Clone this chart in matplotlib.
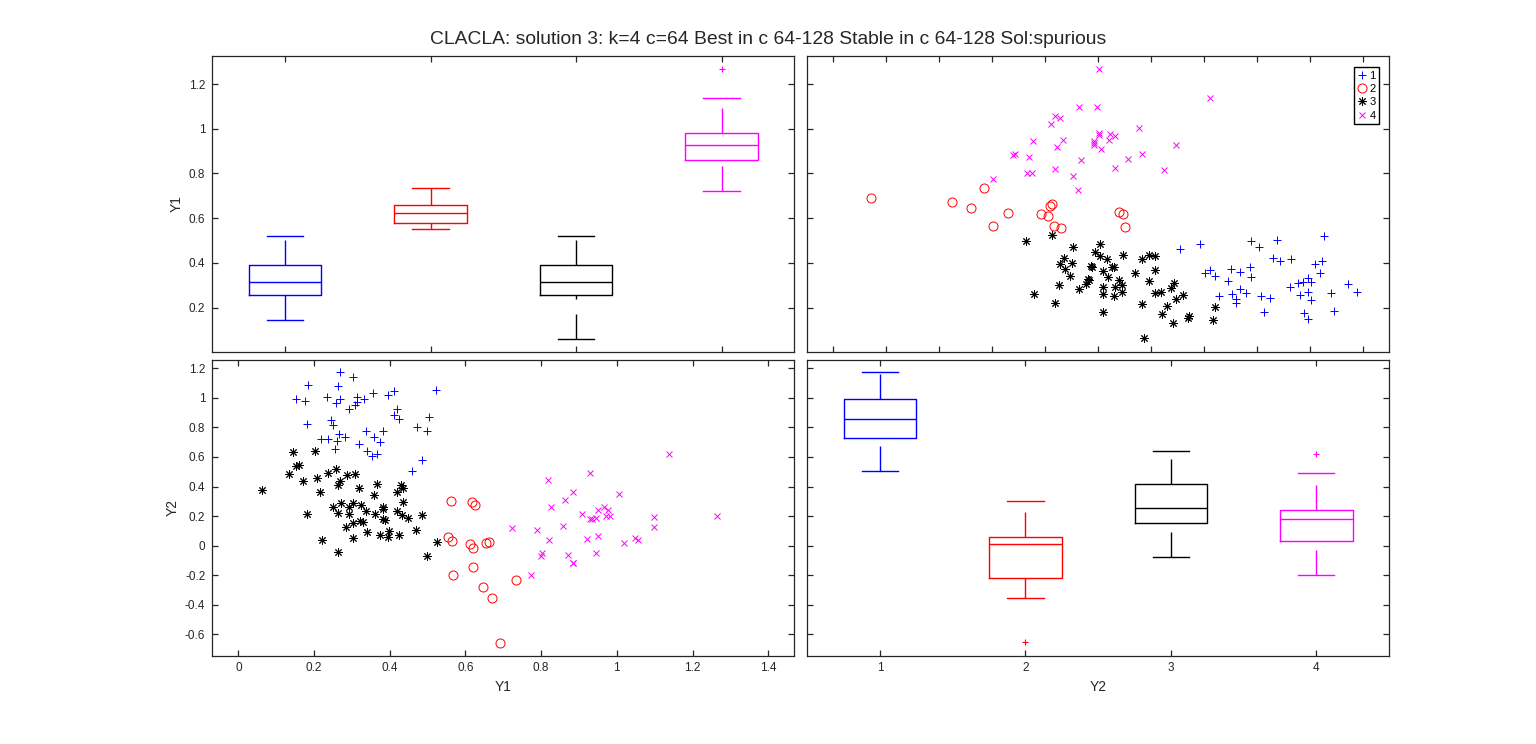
import matplotlib
matplotlib.use('Agg')
import matplotlib.pyplot as plt
import numpy as np
from matplotlib.ticker import FormatStrFormatter

plt.rcParams['font.family'] = ['Liberation Sans', 'DejaVu Sans']
plt.rcParams['axes.unicode_minus'] = False

title = 'CLACLA: solution 3: k=4 c=64 Best in c 64-128 Stable in c 64-128 Sol:spurious'
groups = ['1', '2', '3', '4']
colors = ['#0000ff', '#ff0000', '#000000', '#ff00ff']
markers = ['+', 'o', (8, 2, 0), 'x']

# points, per group (Y1, Y2)
y1_g1 = [0.269, 0.304, 0.183, 0.264, 0.151, 0.175, 0.234, 0.258, 0.269, 0.291, 0.313,
         0.308, 0.314, 0.332, 0.355, 0.396, 0.410, 0.522, 0.419, 0.410, 0.424, 0.181,
         0.245, 0.251, 0.267, 0.281, 0.219, 0.238, 0.260, 0.254, 0.336, 0.359, 0.383,
         0.373, 0.318, 0.341, 0.353, 0.367, 0.473, 0.498, 0.503, 0.484, 0.460]
y2_g1 = [1.175, 1.141, 1.089, 1.080, 0.990, 0.976, 1.003, 0.963, 0.990, 0.922, 1.003,
         0.954, 0.972, 0.990, 1.035, 1.017, 1.044, 1.051, 0.927, 0.886, 0.859, 0.825,
         0.848, 0.814, 0.758, 0.735, 0.719, 0.719, 0.706, 0.656, 0.778, 0.735, 0.773,
         0.701, 0.690, 0.640, 0.604, 0.622, 0.805, 0.778, 0.873, 0.582, 0.507]

y1_g2 = [0.562, 0.618, 0.626, 0.555, 0.564, 0.612, 0.619, 0.655, 0.663, 0.621, 0.566,
         0.734, 0.647, 0.671, 0.692]
y2_g2 = [0.300, 0.293, 0.277, 0.061, 0.034, 0.009, -0.018, 0.018, 0.027, -0.142, -0.196,
         -0.230, -0.282, -0.352, -0.656]

y1_g3 = [0.144, 0.203, 0.152, 0.161, 0.133, 0.172, 0.207, 0.238, 0.257, 0.288, 0.308,
         0.269, 0.264, 0.063, 0.216, 0.318, 0.367, 0.357, 0.429, 0.434, 0.419, 0.436,
         0.180, 0.251, 0.271, 0.262, 0.293, 0.302, 0.323, 0.336, 0.293, 0.381, 0.383,
         0.362, 0.419, 0.431, 0.448, 0.485, 0.382, 0.387, 0.285, 0.304, 0.322, 0.330,
         0.341, 0.374, 0.399, 0.394, 0.424, 0.470, 0.220, 0.302, 0.263, 0.498, 0.524]
y2_g3 = [0.633, 0.640, 0.537, 0.543, 0.482, 0.440, 0.460, 0.494, 0.521, 0.476, 0.487,
         0.435, 0.413, 0.374, 0.365, 0.392, 0.415, 0.340, 0.413, 0.392, 0.365, 0.295,
         0.217, 0.261, 0.288, 0.219, 0.264, 0.288, 0.277, 0.237, 0.217, 0.261, 0.250,
         0.217, 0.232, 0.205, 0.189, 0.205, 0.178, 0.171, 0.126, 0.153, 0.166, 0.160,
         0.092, 0.074, 0.099, 0.056, 0.070, 0.106, 0.038, 0.051, -0.041, -0.072, 0.024]

y1_g4 = [1.139, 0.928, 0.817, 0.885, 0.864, 1.005, 0.825, 0.909, 0.928, 0.935, 0.945,
         0.951, 0.967, 0.978, 0.972, 0.983, 1.097, 1.266, 0.724, 0.788, 0.859, 0.822,
         0.920, 0.951, 1.099, 1.020, 1.047, 1.057, 0.802, 0.800, 0.872, 0.945, 0.884,
         0.885, 0.774]
y2_g4 = [0.622, 0.494, 0.447, 0.365, 0.311, 0.352, 0.264, 0.212, 0.183, 0.183, 0.185,
         0.239, 0.264, 0.244, 0.203, 0.203, 0.196, 0.203, 0.122, 0.104, 0.135, 0.036,
         0.043, 0.068, 0.129, 0.020, 0.054, 0.036, -0.050, -0.068, -0.061, -0.047, -0.120,
         -0.115, -0.196]

y1_groups = [y1_g1, y1_g2, y1_g3, y1_g4]
y2_groups = [y2_g1, y2_g2, y2_g3, y2_g4]

# box plot statistics
y1_whislo = [0.146, 0.553, 0.060, 0.723]
y1_q1 = [0.255, 0.577, 0.258, 0.860]
y1_med = [0.313, 0.622, 0.316, 0.927]
y1_q3 = [0.389, 0.660, 0.392, 0.981]
y1_whishi = [0.519, 0.733, 0.522, 1.139]
y1_fliers = [[], [], [], [1.267]]

y2_whislo = [0.507, -0.352, -0.077, -0.199]
y2_q1 = [0.726, -0.221, 0.153, 0.034]
y2_med = [0.857, 0.009, 0.257, 0.183]
y2_q3 = [0.990, 0.056, 0.415, 0.239]
y2_whishi = [1.172, 0.300, 0.640, 0.491]
y2_fliers = [[], [-0.654], [], [0.620]]

axcol = '#262626'
W, H = 1536, 744
fig = plt.figure(figsize=(W / 100, H / 100), dpi=100)


def px_axes(l, t, r, b):
    return fig.add_axes([l / W, 1 - b / H, (r - l) / W, (b - t) / H])


ax_tl = px_axes(212.3, 55.7, 794.3, 352.3)
ax_tr = px_axes(807.3, 55.7, 1389, 352.3)
ax_bl = px_axes(212.3, 359.5, 794.3, 655.5)
ax_br = px_axes(807.3, 359.5, 1389, 655.5)


def draw_boxes(ax, lo, q1, med, q3, hi, fl):
    for i in range(4):
        st = [dict(whislo=lo[i], q1=q1[i], med=med[i], q3=q3[i], whishi=hi[i], fliers=fl[i])]
        c = colors[i]
        r = ax.bxp(st, positions=[i + 1], widths=0.5, capwidths=0.25, showfliers=True,
                   boxprops=dict(color=c, lw=1.0),
                   medianprops=dict(color=c, lw=1.0),
                   whiskerprops=dict(color=c, lw=1.0, linestyle=(0, (18, 10.8))),
                   capprops=dict(color=c, lw=1.0),
                   flierprops=dict(marker='+', markeredgecolor=c, markersize=5, mew=0.8))
        # dashes start at the lower end of each whisker, as in the original
        w = r['whiskers'][0]
        w.set_ydata(list(w.get_ydata())[::-1])


draw_boxes(ax_tl, y1_whislo, y1_q1, y1_med, y1_q3, y1_whishi, y1_fliers)
draw_boxes(ax_br, y2_whislo, y2_q1, y2_med, y2_q3, y2_whishi, y2_fliers)

handles = []
for i in range(4):
    ms = {0: 6, 1: 6.5, 2: 6, 3: 4.5}[i]
    h, = ax_tr.plot(y2_groups[i], y1_groups[i], ls='none', marker=markers[i], color=colors[i],
                    mfc='none', ms=ms, mew=0.7)
    ax_bl.plot(y1_groups[i], y2_groups[i], ls='none', marker=markers[i], color=colors[i],
               mfc='none', ms=ms, mew=0.7)
    handles.append(h)

leg = ax_tr.legend(handles, groups, loc='upper right', bbox_to_anchor=(0.983, 0.961),
                   borderaxespad=0, fontsize=8, fancybox=False, edgecolor='black',
                   handlelength=0.8, handletextpad=0.3, borderpad=0.3, labelspacing=0.3,
                   framealpha=1)
leg.get_frame().set_linewidth(1.0)

ax_tl.set_xlim(0.5, 4.5)
ax_tl.set_ylim(0.0, 1.327)
ax_tr.set_xlim(-0.898, 1.297)
ax_tr.set_ylim(0.0, 1.327)
ax_bl.set_xlim(-0.069, 1.469)
ax_bl.set_ylim(-0.743, 1.259)
ax_br.set_xlim(0.5, 4.5)
ax_br.set_ylim(-0.743, 1.259)

y1_ticks = np.round(np.arange(0.2, 1.21, 0.2), 1)
y2_ticks = np.round(np.arange(-0.6, 1.21, 0.2), 1)
ax_tl.set_xticks([1, 2, 3, 4])
ax_tl.set_yticks(y1_ticks)
ax_tr.set_xticks(np.round(np.arange(-0.8, 1.21, 0.2), 1))
ax_tr.set_yticks(y1_ticks)
ax_bl.set_xticks(np.round(np.arange(0, 1.41, 0.2), 1))
ax_bl.set_yticks(y2_ticks)
ax_br.set_xticks([1, 2, 3, 4])
ax_br.set_yticks(y2_ticks)

for ax in [ax_tl, ax_tr, ax_bl, ax_br]:
    ax.tick_params(direction='in', top=True, right=True, length=4, width=0.9,
                   colors=axcol, labelsize=8.5, pad=5)
    for s in ax.spines.values():
        s.set_color(axcol)
        s.set_linewidth(0.9)
    ax.xaxis.set_major_formatter(FormatStrFormatter('%g'))
    ax.yaxis.set_major_formatter(FormatStrFormatter('%g'))

ax_tl.tick_params(labelbottom=False)
ax_tr.tick_params(labelbottom=False, labelleft=False)
ax_br.tick_params(labelleft=False)
ax_br.set_xticklabels(groups)

ax_tl.set_ylabel('Y1', fontsize=10, color=axcol)
ax_bl.set_ylabel('Y2', fontsize=10, color=axcol)
ax_bl.set_xlabel('Y1', fontsize=10, color=axcol)
ax_br.set_xlabel('Y2', fontsize=10, color=axcol)

fig.text(0.5, 1 - 39 / H, title, ha='center', va='center', fontsize=13.9, color=axcol)

fig.savefig('out.png', dpi=100)
